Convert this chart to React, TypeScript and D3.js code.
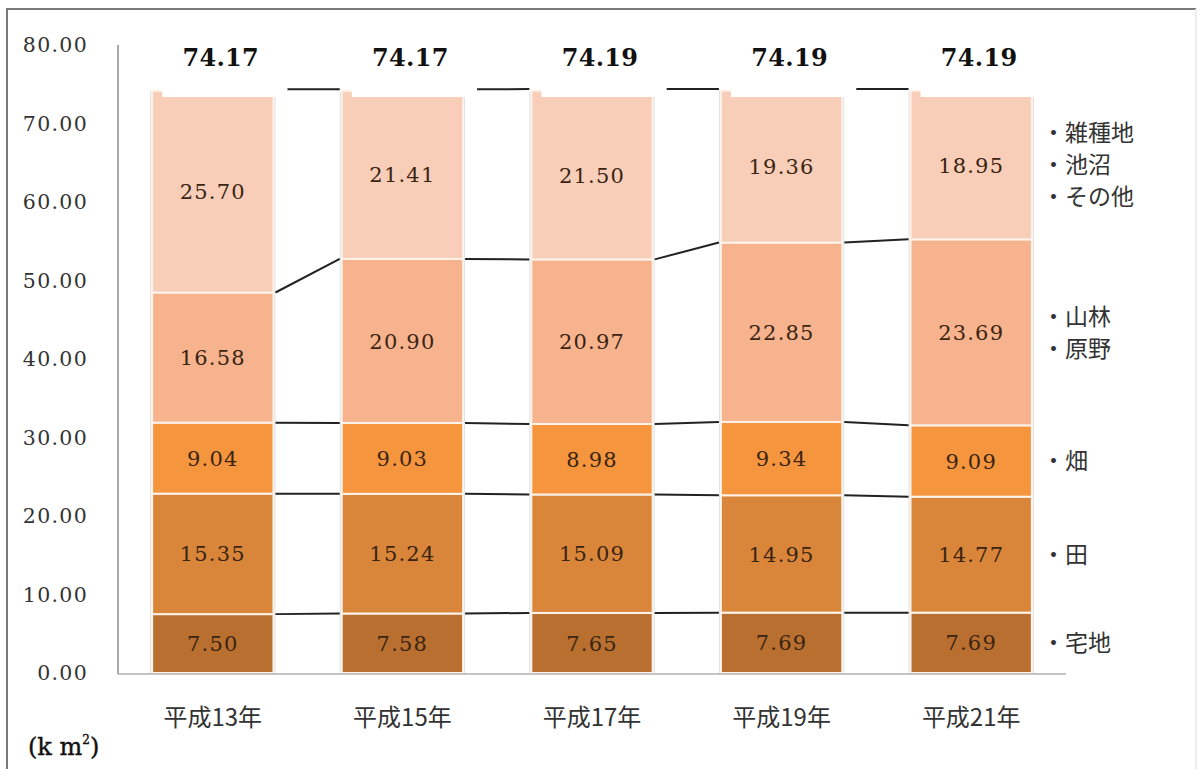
import React from "react";
import * as d3 from "d3";

const categories = ["平成13年", "平成15年", "平成17年", "平成19年", "平成21年"];
const seriesNames = ["宅地", "田", "畑", "山林・原野", "雑種地・池沼・その他"];
const takuchi = [7.5, 7.58, 7.65, 7.69, 7.69];
const ta = [15.35, 15.24, 15.09, 14.95, 14.77];
const hatake = [9.04, 9.03, 8.98, 9.34, 9.09];
const sanrin = [16.58, 20.9, 20.97, 22.85, 23.69];
const sonota = [25.7, 21.41, 21.5, 19.36, 18.95];
const totals = ["74.17", "74.17", "74.19", "74.19", "74.19"];
const yTicks = [0, 10, 20, 30, 40, 50, 60, 70, 80];
const legendLines = [["宅地"], ["田"], ["畑"], ["山林", "原野"], ["雑種地", "池沼", "その他"]];
const colors = ["#B96F30", "#D9863B", "#F5963F", "#F6B38D", "#F9CEB8"];

const W = 1200;
const H = 769;
const serif = "'DejaVu Serif', serif";
const cjk = "'Noto Sans CJK JP', sans-serif";

export default function App() {
  const x = d3.scaleBand<string>().domain(categories).range([118, 1066]).paddingInner(0.36).paddingOuter(0.18);
  const y = d3.scaleLinear().domain([0, 80]).range([673, 45]);
  const seriesValues = [takuchi, ta, hatake, sanrin, sonota];
  const table = categories.map((c, i) => {
    const row: any = { cat: c };
    seriesNames.forEach((s, k) => (row[s] = seriesValues[k][i]));
    return row;
  });
  const stacked = d3.stack<any>().keys(seriesNames)(table);
  const bw = x.bandwidth();

  const levels = seriesNames.map((_, k) => categories.map((_, i) => stacked[k][i][1]));
  const last = categories.length - 1;

  return (
    <svg width={W} height={H} style={{ display: "block", position: "absolute", left: 0, top: 0 }}>
      <rect x={0} y={0} width={W} height={H} fill="#fff" />
      <path d={`M7,${H} L7,9 L1196,9`} fill="none" stroke="#7a7a7a" strokeWidth={2} />
      <line x1={1196} y1={9} x2={1196} y2={H} stroke="#eeeeee" strokeWidth={2} />

      {/* y axis */}
      <line x1={118} y1={y(80)} x2={118} y2={y(0) + 1} stroke="#8c8c8c" strokeWidth={1.5} />
      {yTicks.map((t) => (
        <text key={t} x={88} y={y(t)} dy="0.36em" textAnchor="end" fontFamily={serif} fontSize={20.5}
          letterSpacing={1.3} fill="#333">
          {t.toFixed(2)}
        </text>
      ))}

      {/* bars */}
      {categories.map((c, i) => (
        <rect key={"sh" + c} x={(x(c) as number) - 2} y={y(levels[4][i])} width={bw + 4}
          height={y(0) - y(levels[4][i])} fill="#dde5ea" />
      ))}
      {stacked.map((s, k) =>
        s.map((d, i) => (
          <rect key={k + "-" + i} x={x(categories[i]) as number} y={y(d[1])} width={bw}
            height={y(d[0]) - y(d[1])} fill={colors[k]} stroke="#fdf3ea" strokeWidth={2} />
        ))
      )}
      <line x1={118} y1={y(0) + 1} x2={1066} y2={y(0) + 1} stroke="#b0b0b0" strokeWidth={1.5} />

      {/* connector lines */}
      {levels.map((lv, k) =>
        categories.slice(0, -1).map((c, i) => (
          <line key={"c" + k + "-" + i}
            x1={(x(c) as number) + bw + 2} y1={y(lv[i]) + (k === 4 ? -1.5 : 0)}
            x2={(x(categories[i + 1]) as number) - 2} y2={y(lv[i + 1]) + (k === 4 ? -1.5 : 0)}
            stroke="#222" strokeWidth={2} />
        ))
      )}

      {/* value labels */}
      {stacked.map((s, k) =>
        s.map((d, i) => (
          <text key={"v" + k + "-" + i} x={(x(categories[i]) as number) + bw / 2} y={y((d[0] + d[1]) / 2)}
            dy="0.36em" textAnchor="middle" fontFamily={serif} fontSize={21} letterSpacing={1.2}
            fill="#3a2412">
            {seriesValues[k][i].toFixed(2)}
          </text>
        ))
      )}

      {/* total labels with white boxes */}
      {categories.map((c, i) => (
        <g key={"t" + c}>
          <rect x={(x(c) as number) + 10} y={36} width={bw + 4} height={61} fill="#fff" />
          <text x={(x(c) as number) + bw / 2 + 8} y={57} dy="0.36em" textAnchor="middle" fontFamily={serif}
            fontWeight="bold" fontSize={24} letterSpacing={0.3} fill="#111">
            {totals[i]}
          </text>
        </g>
      ))}

      {/* category labels */}
      {categories.map((c) => (
        <text key={"x" + c} x={(x(c) as number) + bw / 2} y={717} dy="0.36em" textAnchor="middle"
          fontFamily={cjk} fontSize={24} fill="#333">
          {c}
        </text>
      ))}

      {/* legend labels */}
      {legendLines.map((lines, k) => {
        const d = stacked[k][last];
        const cy = y((d[0] + d[1]) / 2);
        return lines.map((t, j) => (
          <text key={"l" + k + "-" + j} x={1042} y={cy + (j - (lines.length - 1) / 2) * 32} dy="0.36em"
            fontFamily={cjk} fontSize={23} fill="#333">
            {"・" + t}
          </text>
        ));
      })}

      {/* unit */}
      <text x={28} y={755} fontFamily={serif} fontSize={24} fill="#111" stroke="#111" strokeWidth={0.4}>
        (k m<tspan fontSize={12} dy={-11}>2</tspan><tspan dy={11}>)</tspan>
      </text>
    </svg>
  );
}
